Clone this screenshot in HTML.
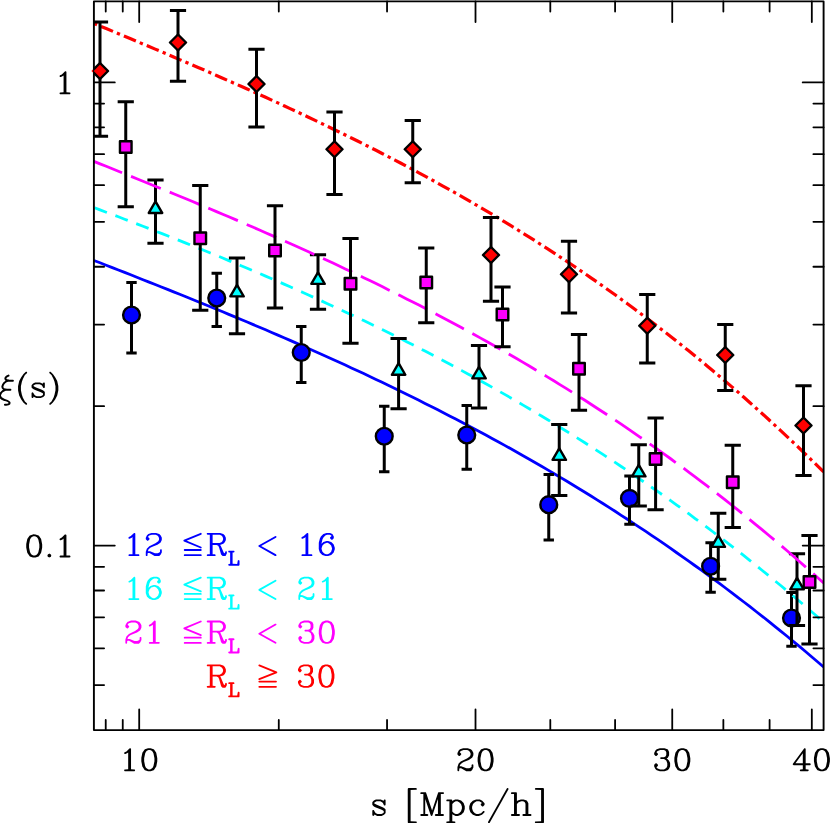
<!DOCTYPE html>
<html><head><meta charset="utf-8"><title>xi(s)</title>
<style>html,body{margin:0;padding:0;background:#fff;}body{width:830px;height:823px;overflow:hidden;font-family:"Liberation Serif",serif;}svg{display:block}</style>
</head><body>
<svg width="830" height="823" viewBox="0 0 830 823">
<rect width="830" height="823" fill="#fff"/>
<clipPath id="c"><rect x="93.9" y="1.4" width="729.7" height="728.7"/></clipPath>
<g clip-path="url(#c)"><path d="M93.9,260.5 L100.0,262.8 L106.2,265.2 L112.3,267.6 L118.4,270.0 L124.6,272.4 L130.7,274.8 L136.8,277.3 L143.0,279.7 L149.1,282.1 L155.2,284.5 L161.4,287.0 L167.5,289.4 L173.6,291.9 L179.7,294.3 L185.9,296.8 L192.0,299.3 L198.1,301.8 L204.3,304.3 L210.4,306.8 L216.5,309.3 L222.7,311.8 L228.8,314.4 L234.9,316.9 L241.1,319.5 L247.2,322.0 L253.3,324.6 L259.5,327.2 L265.6,329.8 L271.7,332.5 L277.9,335.1 L284.0,337.7 L290.1,340.4 L296.3,343.1 L302.4,345.8 L308.5,348.5 L314.6,351.2 L320.8,354.0 L326.9,356.7 L333.0,359.5 L339.2,362.3 L345.3,365.1 L351.4,367.9 L357.6,370.8 L363.7,373.6 L369.8,376.5 L376.0,379.4 L382.1,382.3 L388.2,385.3 L394.4,388.2 L400.5,391.2 L406.6,394.2 L412.8,397.2 L418.9,400.3 L425.0,403.4 L431.2,406.4 L437.3,409.6 L443.4,412.7 L449.6,415.9 L455.7,419.0 L461.8,422.2 L467.9,425.5 L474.1,428.7 L480.2,432.0 L486.3,435.3 L492.5,438.7 L498.6,442.0 L504.7,445.4 L510.9,448.8 L517.0,452.3 L523.1,455.7 L529.3,459.2 L535.4,462.7 L541.5,466.3 L547.7,469.9 L553.8,473.5 L559.9,477.1 L566.1,480.8 L572.2,484.5 L578.3,488.2 L584.5,492.0 L590.6,495.8 L596.7,499.6 L602.9,503.5 L609.0,507.4 L615.1,511.3 L621.2,515.3 L627.4,519.3 L633.5,523.3 L639.6,527.4 L645.8,531.4 L651.9,535.6 L658.0,539.7 L664.2,543.9 L670.3,548.2 L676.4,552.5 L682.6,556.8 L688.7,561.1 L694.8,565.5 L701.0,569.9 L707.1,574.4 L713.2,578.9 L719.4,583.4 L725.5,588.0 L731.6,592.6 L737.8,597.3 L743.9,602.0 L750.0,606.7 L756.1,611.5 L762.3,616.3 L768.4,621.2 L774.5,626.1 L780.7,631.1 L786.8,636.0 L792.9,641.1 L799.1,646.2 L805.2,651.3 L811.3,656.5 L817.5,661.7 L823.6,666.9" fill="none" stroke="#0000ff" stroke-width="2.8"/><path d="M131.50,282.50V353.00M126.30,282.50H136.70M126.30,353.00H136.70M216.75,273.25V326.50M211.55,273.25H221.95M211.55,326.50H221.95M301.25,326.50V382.50M296.05,326.50H306.45M296.05,382.50H306.45M384.25,406.25V471.75M379.05,406.25H389.45M379.05,471.75H389.45M466.75,405.50V469.25M461.55,405.50H471.95M461.55,469.25H471.95M548.75,474.60V540.00M543.55,474.60H553.95M543.55,540.00H553.95M629.50,476.00V524.20M624.30,476.00H634.70M624.30,524.20H634.70M710.60,542.80V592.30M705.40,542.80H715.80M705.40,592.30H715.80M791.50,592.50V646.25M786.30,592.50H796.70M786.30,646.25H796.70" fill="none" stroke="#000" stroke-width="3"/></g>
<circle cx="131.50" cy="315.00" r="8.4" fill="#0000ff" stroke="#000" stroke-width="2.4"/><circle cx="216.75" cy="298.00" r="8.4" fill="#0000ff" stroke="#000" stroke-width="2.4"/><circle cx="301.25" cy="352.50" r="8.4" fill="#0000ff" stroke="#000" stroke-width="2.4"/><circle cx="384.25" cy="436.25" r="8.4" fill="#0000ff" stroke="#000" stroke-width="2.4"/><circle cx="466.75" cy="435.00" r="8.4" fill="#0000ff" stroke="#000" stroke-width="2.4"/><circle cx="548.75" cy="504.70" r="8.4" fill="#0000ff" stroke="#000" stroke-width="2.4"/><circle cx="629.50" cy="498.40" r="8.4" fill="#0000ff" stroke="#000" stroke-width="2.4"/><circle cx="710.60" cy="566.25" r="8.4" fill="#0000ff" stroke="#000" stroke-width="2.4"/><circle cx="791.50" cy="618.00" r="8.4" fill="#0000ff" stroke="#000" stroke-width="2.4"/>
<g clip-path="url(#c)"><path d="M93.9,207.5 L100.0,209.9 L106.2,212.2 L112.3,214.5 L118.4,216.8 L124.6,219.2 L130.7,221.5 L136.8,223.9 L143.0,226.2 L149.1,228.6 L155.2,231.0 L161.4,233.4 L167.5,235.8 L173.6,238.2 L179.7,240.6 L185.9,243.1 L192.0,245.6 L198.1,248.0 L204.3,250.5 L210.4,253.0 L216.5,255.5 L222.7,258.0 L228.8,260.6 L234.9,263.1 L241.1,265.7 L247.2,268.3 L253.3,270.9 L259.5,273.5 L265.6,276.1 L271.7,278.8 L277.9,281.4 L284.0,284.1 L290.1,286.8 L296.3,289.5 L302.4,292.2 L308.5,295.0 L314.6,297.8 L320.8,300.6 L326.9,303.4 L333.0,306.2 L339.2,309.0 L345.3,311.9 L351.4,314.8 L357.6,317.7 L363.7,320.6 L369.8,323.6 L376.0,326.5 L382.1,329.5 L388.2,332.5 L394.4,335.6 L400.5,338.6 L406.6,341.7 L412.8,344.8 L418.9,348.0 L425.0,351.1 L431.2,354.3 L437.3,357.5 L443.4,360.7 L449.6,364.0 L455.7,367.2 L461.8,370.6 L467.9,373.9 L474.1,377.2 L480.2,380.6 L486.3,384.0 L492.5,387.5 L498.6,390.9 L504.7,394.4 L510.9,398.0 L517.0,401.5 L523.1,405.1 L529.3,408.7 L535.4,412.3 L541.5,416.0 L547.7,419.7 L553.8,423.4 L559.9,427.2 L566.1,431.0 L572.2,434.8 L578.3,438.6 L584.5,442.5 L590.6,446.4 L596.7,450.4 L602.9,454.4 L609.0,458.4 L615.1,462.4 L621.2,466.5 L627.4,470.6 L633.5,474.8 L639.6,479.0 L645.8,483.2 L651.9,487.5 L658.0,491.7 L664.2,496.1 L670.3,500.4 L676.4,504.8 L682.6,509.3 L688.7,513.7 L694.8,518.3 L701.0,522.8 L707.1,527.4 L713.2,532.0 L719.4,536.7 L725.5,541.4 L731.6,546.1 L737.8,550.9 L743.9,555.7 L750.0,560.6 L756.1,565.5 L762.3,570.5 L768.4,575.4 L774.5,580.5 L780.7,585.5 L786.8,590.6 L792.9,595.8 L799.1,601.0 L805.2,606.2 L811.3,611.5 L817.5,616.8 L823.6,622.2" fill="none" stroke="#00ffff" stroke-width="2.8" stroke-dasharray="13.2 9.1" stroke-dashoffset="-0.7"/><path d="M155.50,179.90V243.15M147.40,179.90H163.60M147.40,243.15H163.60M237.00,257.90V333.65M228.90,257.90H245.10M228.90,333.65H245.10M318.00,254.65V309.15M309.90,254.65H326.10M309.90,309.15H326.10M398.60,338.40V408.65M390.50,338.40H406.70M390.50,408.65H406.70M479.00,345.40V407.90M470.90,345.40H487.10M470.90,407.90H487.10M559.25,424.40V495.40M551.15,424.40H567.35M551.15,495.40H567.35M638.75,444.65V505.90M630.65,444.65H646.85M630.65,505.90H646.85M718.25,513.15V579.30M710.15,513.15H726.35M710.15,579.30H726.35M797.00,553.65V625.40M788.90,553.65H805.10M788.90,625.40H805.10" fill="none" stroke="#000" stroke-width="3"/></g>
<path d="M155.50,201.40L162.20,212.95H148.80ZM237.00,284.80L243.70,296.35H230.30ZM318.00,272.30L324.70,283.85H311.30ZM398.60,363.20L405.30,374.75H391.90ZM479.00,366.80L485.70,378.35H472.30ZM559.25,448.30L565.95,459.85H552.55ZM638.75,464.80L645.45,476.35H632.05ZM718.25,535.30L724.95,546.85H711.55ZM797.00,577.80L803.70,589.35H790.30Z" fill="#00ffff" stroke="#000" stroke-width="2.4" stroke-linejoin="round"/>
<g clip-path="url(#c)"><path d="M93.9,161.4 L100.0,163.9 L106.2,166.3 L112.3,168.8 L118.4,171.3 L124.6,173.7 L130.7,176.2 L136.8,178.7 L143.0,181.2 L149.1,183.7 L155.2,186.2 L161.4,188.7 L167.5,191.2 L173.6,193.7 L179.7,196.2 L185.9,198.8 L192.0,201.3 L198.1,203.9 L204.3,206.4 L210.4,209.0 L216.5,211.6 L222.7,214.2 L228.8,216.8 L234.9,219.4 L241.1,222.0 L247.2,224.7 L253.3,227.3 L259.5,230.0 L265.6,232.7 L271.7,235.4 L277.9,238.1 L284.0,240.8 L290.1,243.5 L296.3,246.3 L302.4,249.1 L308.5,251.8 L314.6,254.6 L320.8,257.5 L326.9,260.3 L333.0,263.1 L339.2,266.0 L345.3,268.9 L351.4,271.8 L357.6,274.7 L363.7,277.7 L369.8,280.6 L376.0,283.6 L382.1,286.6 L388.2,289.7 L394.4,292.7 L400.5,295.8 L406.6,298.9 L412.8,302.0 L418.9,305.1 L425.0,308.3 L431.2,311.5 L437.3,314.7 L443.4,317.9 L449.6,321.2 L455.7,324.5 L461.8,327.8 L467.9,331.1 L474.1,334.5 L480.2,337.9 L486.3,341.3 L492.5,344.7 L498.6,348.2 L504.7,351.7 L510.9,355.3 L517.0,358.8 L523.1,362.4 L529.3,366.0 L535.4,369.7 L541.5,373.4 L547.7,377.1 L553.8,380.8 L559.9,384.6 L566.1,388.4 L572.2,392.3 L578.3,396.1 L584.5,400.0 L590.6,404.0 L596.7,408.0 L602.9,412.0 L609.0,416.0 L615.1,420.1 L621.2,424.2 L627.4,428.4 L633.5,432.6 L639.6,436.8 L645.8,441.1 L651.9,445.4 L658.0,449.7 L664.2,454.1 L670.3,458.5 L676.4,463.0 L682.6,467.5 L688.7,472.1 L694.8,476.6 L701.0,481.3 L707.1,485.9 L713.2,490.6 L719.4,495.4 L725.5,500.2 L731.6,505.0 L737.8,509.9 L743.9,514.8 L750.0,519.8 L756.1,524.8 L762.3,529.9 L768.4,535.0 L774.5,540.1 L780.7,545.3 L786.8,550.5 L792.9,555.8 L799.1,561.2 L805.2,566.6 L811.3,572.0 L817.5,577.5 L823.6,583.0" fill="none" stroke="#ff00ff" stroke-width="2.8" stroke-dasharray="32.1 9.68" stroke-dashoffset="1.75"/><path d="M125.75,101.75V206.75M117.65,101.75H133.85M117.65,206.75H133.85M200.25,185.50V310.25M192.15,185.50H208.35M192.15,310.25H208.35M275.00,205.75V308.00M266.90,205.75H283.10M266.90,308.00H283.10M350.50,238.50V343.25M342.40,238.50H358.60M342.40,343.25H358.60M426.25,248.00V322.75M418.15,248.00H434.35M418.15,322.75H434.35M502.50,287.00V346.75M494.40,287.00H510.60M494.40,346.75H510.60M579.00,334.50V410.25M570.90,334.50H587.10M570.90,410.25H587.10M655.60,418.00V509.75M647.50,418.00H663.70M647.50,509.75H663.70M732.75,445.25V527.40M724.65,445.25H740.85M724.65,527.40H740.85M809.50,535.50V644.00M801.40,535.50H817.60M801.40,644.00H817.60" fill="none" stroke="#000" stroke-width="3"/></g>
<path d="M119.95,141.20h11.6v11.6h-11.6ZM194.45,232.45h11.6v11.6h-11.6ZM269.20,244.70h11.6v11.6h-11.6ZM344.70,277.95h11.6v11.6h-11.6ZM420.45,276.70h11.6v11.6h-11.6ZM496.70,308.70h11.6v11.6h-11.6ZM573.20,362.95h11.6v11.6h-11.6ZM649.80,453.20h11.6v11.6h-11.6ZM726.95,476.45h11.6v11.6h-11.6ZM803.70,576.20h11.6v11.6h-11.6Z" fill="#ff00ff" stroke="#000" stroke-width="2.4" stroke-linejoin="round"/>
<g clip-path="url(#c)"><path d="M93.9,23.4 L100.0,26.0 L106.2,28.5 L112.3,31.1 L118.4,33.7 L124.6,36.2 L130.7,38.8 L136.8,41.4 L143.0,44.0 L149.1,46.5 L155.2,49.1 L161.4,51.7 L167.5,54.3 L173.6,57.0 L179.7,59.6 L185.9,62.2 L192.0,64.8 L198.1,67.5 L204.3,70.1 L210.4,72.8 L216.5,75.5 L222.7,78.2 L228.8,80.9 L234.9,83.6 L241.1,86.3 L247.2,89.0 L253.3,91.8 L259.5,94.6 L265.6,97.3 L271.7,100.1 L277.9,102.9 L284.0,105.8 L290.1,108.6 L296.3,111.5 L302.4,114.3 L308.5,117.2 L314.6,120.1 L320.8,123.1 L326.9,126.0 L333.0,129.0 L339.2,132.0 L345.3,135.0 L351.4,138.0 L357.6,141.0 L363.7,144.1 L369.8,147.2 L376.0,150.3 L382.1,153.5 L388.2,156.6 L394.4,159.8 L400.5,163.0 L406.6,166.3 L412.8,169.5 L418.9,172.8 L425.0,176.1 L431.2,179.5 L437.3,182.9 L443.4,186.3 L449.6,189.7 L455.7,193.2 L461.8,196.6 L467.9,200.2 L474.1,203.7 L480.2,207.3 L486.3,210.9 L492.5,214.5 L498.6,218.2 L504.7,221.9 L510.9,225.7 L517.0,229.4 L523.1,233.3 L529.3,237.1 L535.4,241.0 L541.5,244.9 L547.7,248.8 L553.8,252.8 L559.9,256.9 L566.1,260.9 L572.2,265.0 L578.3,269.2 L584.5,273.3 L590.6,277.6 L596.7,281.8 L602.9,286.1 L609.0,290.5 L615.1,294.8 L621.2,299.3 L627.4,303.7 L633.5,308.2 L639.6,312.8 L645.8,317.4 L651.9,322.0 L658.0,326.7 L664.2,331.5 L670.3,336.2 L676.4,341.1 L682.6,345.9 L688.7,350.8 L694.8,355.8 L701.0,360.8 L707.1,365.9 L713.2,371.0 L719.4,376.2 L725.5,381.4 L731.6,386.6 L737.8,391.9 L743.9,397.3 L750.0,402.7 L756.1,408.2 L762.3,413.7 L768.4,419.3 L774.5,424.9 L780.7,430.6 L786.8,436.3 L792.9,442.1 L799.1,448.0 L805.2,453.9 L811.3,459.8 L817.5,465.9 L823.6,471.9" fill="none" stroke="#ff0000" stroke-width="3.2" stroke-dasharray="13.0 4.25 3.3 4.25" stroke-dashoffset="-7.7"/><path d="M100.00,22.00V136.25M91.90,22.00H108.10M91.90,136.25H108.10M178.00,10.50V81.25M169.90,10.50H186.10M169.90,81.25H186.10M256.50,49.25V127.00M248.40,49.25H264.60M248.40,127.00H264.60M334.50,112.00V194.50M326.40,112.00H342.60M326.40,194.50H342.60M412.75,120.50V182.75M404.65,120.50H420.85M404.65,182.75H420.85M491.00,217.50V301.25M482.90,217.50H499.10M482.90,301.25H499.10M569.00,241.25V313.00M560.90,241.25H577.10M560.90,313.00H577.10M647.25,294.50V363.00M639.15,294.50H655.35M639.15,363.00H655.35M725.25,324.50V390.50M717.15,324.50H733.35M717.15,390.50H733.35M803.50,385.75V475.50M795.40,385.75H811.60M795.40,475.50H811.60" fill="none" stroke="#000" stroke-width="3"/></g>
<path d="M178.00,34.50l8.0,8.0l-8.0,8.0l-8.0,-8.0ZM256.50,76.00l8.0,8.0l-8.0,8.0l-8.0,-8.0ZM334.50,141.25l8.0,8.0l-8.0,8.0l-8.0,-8.0ZM412.75,141.25l8.0,8.0l-8.0,8.0l-8.0,-8.0ZM491.00,247.00l8.0,8.0l-8.0,8.0l-8.0,-8.0ZM569.00,266.25l8.0,8.0l-8.0,8.0l-8.0,-8.0ZM647.25,317.75l8.0,8.0l-8.0,8.0l-8.0,-8.0ZM725.25,347.00l8.0,8.0l-8.0,8.0l-8.0,-8.0ZM803.50,417.50l8.0,8.0l-8.0,8.0l-8.0,-8.0Z" fill="#ff0000" stroke="#000" stroke-width="2.4" stroke-linejoin="round"/>
<path d="M100,62.4l8.6,8.6l-8.6,8.6l-8.6,-8.6Z" fill="#ff0000"/>
<path d="M93.9,1.4H823.6V730.1H93.9Z" fill="none" stroke="#000" stroke-width="1.9" stroke-linejoin="round"/>
<path d="M139.20,730.1v-20.7M139.20,1.4v20.7M475.51,730.1v-20.7M475.51,1.4v20.7M672.24,730.1v-20.7M672.24,1.4v20.7M811.82,730.1v-20.7M811.82,1.4v20.7M105.73,730.1v-10.2M105.73,1.4v10.2M122.75,730.1v-10.2M122.75,1.4v10.2M278.78,730.1v-10.2M278.78,1.4v10.2M387.05,730.1v-10.2M387.05,1.4v10.2M550.30,730.1v-10.2M550.30,1.4v10.2M615.09,730.1v-10.2M615.09,1.4v10.2M723.36,730.1v-10.2M723.36,1.4v10.2M769.60,730.1v-10.2M769.60,1.4v10.2M93.9,82.40h20.9M823.6,82.40h-20.9M93.9,545.60h20.9M823.6,545.60h-20.9M93.9,103.59h10.2M823.6,103.59h-10.2M93.9,127.29h10.2M823.6,127.29h-10.2M93.9,154.15h10.2M823.6,154.15h-10.2M93.9,185.16h10.2M823.6,185.16h-10.2M93.9,221.84h10.2M823.6,221.84h-10.2M93.9,266.73h10.2M823.6,266.73h-10.2M93.9,324.60h10.2M823.6,324.60h-10.2M93.9,406.16h10.2M823.6,406.16h-10.2M93.9,566.79h10.2M823.6,566.79h-10.2M93.9,590.49h10.2M823.6,590.49h-10.2M93.9,617.35h10.2M823.6,617.35h-10.2M93.9,648.36h10.2M823.6,648.36h-10.2M93.9,685.04h10.2M823.6,685.04h-10.2" fill="none" stroke="#000" stroke-width="1.8" stroke-linecap="round"/>
<g clip-path="url(#c)"><path d="M100,63.0l8.0,8.0l-8.0,8.0l-8.0,-8.0Z" fill="#ff0000" stroke="#000" stroke-width="2.4" stroke-linejoin="round"/></g>
<g fill="#000" fill-rule="evenodd"><path transform="translate(119.00 770.30) scale(1.0100 1.0100)" d="M11.22 -21.88 10.78 -21.88 10.34 -21.66 7.38 -18.69 5.59 -17.81 5.34 -17.62 5.12 -17.22 5.12 -16.78 5.34 -16.38 5.69 -16.16 6.00 -16.09 6.41 -16.19 8.41 -17.19 9.09 -17.72 9.09 -0.94 6.00 -0.91 5.50 -0.75 5.16 -0.31 5.12 0.22 5.34 0.62 5.78 0.88 15.00 0.91 15.31 0.84 15.62 0.66 15.88 0.22 15.88 -0.22 15.75 -0.50 15.50 -0.75 15.22 -0.88 11.91 -0.94 11.91 -21.00 11.84 -21.31 11.66 -21.62Z"/><path transform="translate(139.20 770.30) scale(1.0100 1.0100)" d="M9.00 -21.91 8.72 -21.88 5.72 -20.88 5.38 -20.66 3.28 -17.56 3.09 -17.16 2.12 -12.31 2.09 -9.00 3.09 -3.84 3.28 -3.44 5.34 -0.38 5.72 -0.12 8.72 0.88 11.00 0.91 11.28 0.88 14.28 -0.12 14.62 -0.34 16.72 -3.44 16.91 -3.84 17.88 -8.69 17.91 -12.00 16.91 -17.16 16.72 -17.56 14.66 -20.62 14.28 -20.88 11.28 -21.88ZM9.19 -20.09 10.81 -20.09 12.38 -19.31 13.31 -18.38 14.16 -16.66 15.09 -11.97 15.09 -9.03 14.12 -4.25 13.31 -2.62 12.38 -1.69 10.81 -0.91 9.19 -0.91 7.62 -1.69 6.69 -2.62 5.84 -4.34 4.91 -9.03 4.91 -11.97 5.88 -16.75 6.69 -18.38 7.62 -19.31Z"/></g>
<g fill="#000" fill-rule="evenodd"><path transform="translate(455.31 770.30) scale(1.0100 1.0100)" d="M4.72 -20.88 4.34 -20.66 3.34 -19.66 2.12 -17.22 2.09 -16.00 2.16 -15.69 2.34 -15.34 3.50 -14.25 4.00 -14.09 4.31 -14.16 4.66 -14.34 5.66 -15.34 5.88 -15.78 5.88 -16.22 5.66 -16.66 4.66 -17.66 4.41 -17.81 4.69 -18.38 5.53 -19.22 8.12 -20.09 11.81 -20.09 13.38 -19.31 14.31 -18.38 15.09 -16.81 15.09 -15.19 14.28 -13.59 11.56 -11.78 5.34 -8.66 3.34 -6.66 3.12 -6.28 2.12 -3.28 2.09 0.00 2.16 0.31 2.38 0.66 2.78 0.88 3.22 0.88 3.50 0.75 3.75 0.50 3.88 0.22 3.91 -1.59 4.41 -2.09 5.75 -2.09 10.47 0.75 10.78 0.88 15.00 0.91 15.31 0.84 15.66 0.66 16.66 -0.34 17.88 -2.78 17.88 -5.22 17.66 -5.62 17.31 -5.84 16.78 -5.88 16.50 -5.75 16.25 -5.50 16.09 -5.00 16.09 -3.41 15.38 -2.69 13.81 -1.91 11.16 -1.91 6.38 -3.84 6.00 -3.91 4.31 -3.91 4.28 -4.00 4.78 -5.47 6.62 -7.31 8.31 -8.16 13.34 -10.16 16.62 -12.34 16.81 -12.59 17.88 -14.78 17.91 -17.00 17.81 -17.41 16.66 -19.66 15.66 -20.66 15.28 -20.88 12.28 -21.88 7.72 -21.88Z"/><path transform="translate(475.51 770.30) scale(1.0100 1.0100)" d="M9.00 -21.91 8.72 -21.88 5.72 -20.88 5.38 -20.66 3.28 -17.56 3.09 -17.16 2.12 -12.31 2.09 -9.00 3.09 -3.84 3.28 -3.44 5.34 -0.38 5.72 -0.12 8.72 0.88 11.00 0.91 11.28 0.88 14.28 -0.12 14.62 -0.34 16.72 -3.44 16.91 -3.84 17.88 -8.69 17.91 -12.00 16.91 -17.16 16.72 -17.56 14.66 -20.62 14.28 -20.88 11.28 -21.88ZM9.19 -20.09 10.81 -20.09 12.38 -19.31 13.31 -18.38 14.16 -16.66 15.09 -11.97 15.09 -9.03 14.12 -4.25 13.31 -2.62 12.38 -1.69 10.81 -0.91 9.19 -0.91 7.62 -1.69 6.69 -2.62 5.84 -4.34 4.91 -9.03 4.91 -11.97 5.88 -16.75 6.69 -18.38 7.62 -19.31Z"/></g>
<g fill="#000" fill-rule="evenodd"><path transform="translate(652.04 770.30) scale(1.0100 1.0100)" d="M7.72 -21.88 4.72 -20.88 4.34 -20.66 3.34 -19.66 2.12 -17.22 2.09 -16.00 2.16 -15.69 2.34 -15.34 3.50 -14.25 4.00 -14.09 4.31 -14.16 4.66 -14.34 5.66 -15.34 5.84 -15.69 5.91 -16.00 5.84 -16.31 5.66 -16.66 4.66 -17.66 4.41 -17.81 4.69 -18.38 5.53 -19.22 8.12 -20.09 11.81 -20.09 13.31 -19.34 14.09 -17.81 14.09 -15.19 13.34 -13.69 11.81 -12.91 8.78 -12.88 8.34 -12.62 8.16 -12.31 8.09 -12.00 8.16 -11.69 8.34 -11.38 8.78 -11.12 11.81 -11.09 13.38 -10.31 14.22 -9.47 15.09 -6.88 15.09 -4.19 14.31 -2.62 13.38 -1.69 11.81 -0.91 8.12 -0.91 5.53 -1.78 4.69 -2.62 4.41 -3.19 4.66 -3.34 5.66 -4.34 5.88 -4.78 5.88 -5.22 5.66 -5.66 4.66 -6.66 4.22 -6.88 3.78 -6.88 3.34 -6.66 2.34 -5.66 2.16 -5.31 2.09 -5.00 2.12 -3.78 3.34 -1.34 4.34 -0.34 4.72 -0.12 7.72 0.88 12.28 0.88 15.28 -0.12 15.66 -0.34 16.66 -1.34 17.88 -3.78 17.91 -7.00 17.81 -7.41 16.66 -9.66 14.66 -11.66 14.41 -11.81 15.28 -12.12 15.66 -12.38 16.81 -14.59 16.91 -15.00 16.88 -18.22 15.81 -20.41 15.62 -20.66 15.28 -20.88 12.28 -21.88Z"/><path transform="translate(672.24 770.30) scale(1.0100 1.0100)" d="M9.00 -21.91 8.72 -21.88 5.72 -20.88 5.38 -20.66 3.28 -17.56 3.09 -17.16 2.12 -12.31 2.09 -9.00 3.09 -3.84 3.28 -3.44 5.34 -0.38 5.72 -0.12 8.72 0.88 11.00 0.91 11.28 0.88 14.28 -0.12 14.62 -0.34 16.72 -3.44 16.91 -3.84 17.88 -8.69 17.91 -12.00 16.91 -17.16 16.72 -17.56 14.66 -20.62 14.28 -20.88 11.28 -21.88ZM9.19 -20.09 10.81 -20.09 12.38 -19.31 13.31 -18.38 14.16 -16.66 15.09 -11.97 15.09 -9.03 14.12 -4.25 13.31 -2.62 12.38 -1.69 10.81 -0.91 9.19 -0.91 7.62 -1.69 6.69 -2.62 5.84 -4.34 4.91 -9.03 4.91 -11.97 5.88 -16.75 6.69 -18.38 7.62 -19.31Z"/></g>
<g fill="#000" fill-rule="evenodd"><path transform="translate(791.62 770.30) scale(1.0100 1.0100)" d="M13.22 -21.88 12.69 -21.84 12.38 -21.66 1.44 -6.78 1.12 -6.22 1.12 -5.78 1.34 -5.38 1.69 -5.16 2.00 -5.09 11.06 -5.09 11.09 -0.94 9.00 -0.91 8.69 -0.84 8.38 -0.66 8.12 -0.22 8.12 0.22 8.34 0.62 8.78 0.88 16.00 0.91 16.50 0.75 16.75 0.50 16.91 0.00 16.75 -0.50 16.50 -0.75 16.00 -0.91 13.91 -0.94 13.91 -5.06 18.22 -5.12 18.62 -5.34 18.88 -5.78 18.88 -6.22 18.75 -6.50 18.50 -6.75 18.22 -6.88 13.91 -6.94 13.91 -21.00 13.84 -21.31 13.66 -21.62ZM11.06 -16.81 11.09 -6.94 3.84 -6.91 4.00 -7.22Z"/><path transform="translate(811.82 770.30) scale(1.0100 1.0100)" d="M9.00 -21.91 8.72 -21.88 5.72 -20.88 5.38 -20.66 3.28 -17.56 3.09 -17.16 2.12 -12.31 2.09 -9.00 3.09 -3.84 3.28 -3.44 5.34 -0.38 5.72 -0.12 8.72 0.88 11.00 0.91 11.28 0.88 14.28 -0.12 14.62 -0.34 16.72 -3.44 16.91 -3.84 17.88 -8.69 17.91 -12.00 16.91 -17.16 16.72 -17.56 14.66 -20.62 14.28 -20.88 11.28 -21.88ZM9.19 -20.09 10.81 -20.09 12.38 -19.31 13.31 -18.38 14.16 -16.66 15.09 -11.97 15.09 -9.03 14.12 -4.25 13.31 -2.62 12.38 -1.69 10.81 -0.91 9.19 -0.91 7.62 -1.69 6.69 -2.62 5.84 -4.34 4.91 -9.03 4.91 -11.97 5.88 -16.75 6.69 -18.38 7.62 -19.31Z"/></g>
<g fill="#000" fill-rule="evenodd"><path transform="translate(54.40 93.30) scale(1.0100 1.0100)" d="M11.22 -21.88 10.78 -21.88 10.34 -21.66 7.38 -18.69 5.59 -17.81 5.34 -17.62 5.12 -17.22 5.12 -16.78 5.34 -16.38 5.69 -16.16 6.00 -16.09 6.41 -16.19 8.41 -17.19 9.09 -17.72 9.09 -0.94 6.00 -0.91 5.50 -0.75 5.16 -0.31 5.12 0.22 5.34 0.62 5.78 0.88 15.00 0.91 15.31 0.84 15.62 0.66 15.88 0.22 15.88 -0.22 15.75 -0.50 15.50 -0.75 15.22 -0.88 11.91 -0.94 11.91 -21.00 11.84 -21.31 11.66 -21.62Z"/></g>
<g fill="#000" fill-rule="evenodd"><path transform="translate(24.10 556.50) scale(1.0100 1.0100)" d="M9.00 -21.91 8.72 -21.88 5.72 -20.88 5.38 -20.66 3.28 -17.56 3.09 -17.16 2.12 -12.31 2.09 -9.00 3.09 -3.84 3.28 -3.44 5.34 -0.38 5.72 -0.12 8.72 0.88 11.00 0.91 11.28 0.88 14.28 -0.12 14.62 -0.34 16.72 -3.44 16.91 -3.84 17.88 -8.69 17.91 -12.00 16.91 -17.16 16.72 -17.56 14.66 -20.62 14.28 -20.88 11.28 -21.88ZM9.19 -20.09 10.81 -20.09 12.38 -19.31 13.31 -18.38 14.16 -16.66 15.09 -11.97 15.09 -9.03 14.12 -4.25 13.31 -2.62 12.38 -1.69 10.81 -0.91 9.19 -0.91 7.62 -1.69 6.69 -2.62 5.84 -4.34 4.91 -9.03 4.91 -11.97 5.88 -16.75 6.69 -18.38 7.62 -19.31Z"/><path transform="translate(44.30 556.50) scale(1.0100 1.0100)" d="M5.00 -2.91 4.69 -2.84 4.34 -2.66 3.34 -1.66 3.16 -1.31 3.09 -1.00 3.16 -0.69 3.34 -0.34 4.34 0.66 4.69 0.84 5.00 0.91 5.31 0.84 5.66 0.66 6.66 -0.34 6.84 -0.69 6.91 -1.00 6.84 -1.31 6.66 -1.66 5.66 -2.66 5.31 -2.84Z"/><path transform="translate(54.40 556.50) scale(1.0100 1.0100)" d="M11.22 -21.88 10.78 -21.88 10.34 -21.66 7.38 -18.69 5.59 -17.81 5.34 -17.62 5.12 -17.22 5.12 -16.78 5.34 -16.38 5.69 -16.16 6.00 -16.09 6.41 -16.19 8.41 -17.19 9.09 -17.72 9.09 -0.94 6.00 -0.91 5.50 -0.75 5.16 -0.31 5.12 0.22 5.34 0.62 5.78 0.88 15.00 0.91 15.31 0.84 15.62 0.66 15.88 0.22 15.88 -0.22 15.75 -0.50 15.50 -0.75 15.22 -0.88 11.91 -0.94 11.91 -21.00 11.84 -21.31 11.66 -21.62Z"/></g>
<g fill="#000" fill-rule="evenodd"><path transform="translate(370.10 815.00) scale(1.0420 1.0420)" d="M5.56 -14.78 3.62 -13.81 2.25 -12.44 2.12 -12.00 2.12 -10.00 2.25 -9.56 3.62 -8.19 5.56 -7.22 10.56 -5.25 12.47 -4.28 13.12 -3.62 13.12 -2.38 12.47 -1.72 10.78 -0.88 7.22 -0.88 5.53 -1.72 4.72 -2.53 3.69 -4.53 3.31 -4.81 2.78 -4.84 2.31 -4.53 2.12 -4.00 2.12 0.00 2.19 0.31 2.31 0.53 2.69 0.81 3.00 0.88 3.31 0.81 3.81 0.38 4.25 -0.50 4.62 -0.19 6.78 0.84 11.00 0.88 11.44 0.78 13.38 -0.19 14.75 -1.56 14.88 -2.00 14.88 -5.00 14.75 -5.44 13.38 -6.81 11.44 -7.78 6.44 -9.75 4.53 -10.72 3.88 -11.38 3.88 -11.62 4.53 -12.28 6.22 -13.12 9.78 -13.12 11.47 -12.28 12.28 -11.47 13.31 -9.47 13.69 -9.19 14.22 -9.16 14.69 -9.47 14.88 -10.00 14.88 -14.00 14.81 -14.31 14.69 -14.53 14.31 -14.81 14.00 -14.88 13.69 -14.81 13.19 -14.38 12.75 -13.50 12.38 -13.81 10.22 -14.84 6.00 -14.88Z"/><path transform="translate(404.49 815.00) scale(1.0420 1.0420)" d="M3.78 -25.84 3.31 -25.53 3.12 -25.00 3.16 7.22 3.47 7.69 4.00 7.88 11.22 7.84 11.69 7.53 11.88 7.00 11.69 6.47 11.22 6.16 5.88 6.09 5.88 -24.09 11.22 -24.16 11.53 -24.31 11.75 -24.56 11.84 -24.78 11.84 -25.22 11.53 -25.69 11.00 -25.88Z"/><path transform="translate(419.07 815.00) scale(1.0420 1.0420)" d="M1.47 -21.69 1.25 -21.44 1.12 -21.00 1.25 -20.56 1.56 -20.25 2.00 -20.12 4.12 -20.09 4.12 -0.91 2.00 -0.88 1.56 -0.75 1.31 -0.53 1.16 -0.22 1.16 0.22 1.31 0.53 1.56 0.75 2.00 0.88 8.00 0.88 8.53 0.69 8.84 0.22 8.88 0.00 8.75 -0.44 8.31 -0.81 8.00 -0.88 5.88 -0.91 5.91 -15.47 11.16 0.28 11.47 0.69 12.00 0.88 12.53 0.69 12.84 0.28 18.09 -15.47 18.12 -0.91 16.00 -0.88 15.69 -0.81 15.47 -0.69 15.19 -0.31 15.12 0.00 15.19 0.31 15.47 0.69 16.00 0.88 23.00 0.88 23.53 0.69 23.75 0.44 23.88 0.00 23.75 -0.44 23.44 -0.75 23.00 -0.88 20.88 -0.91 20.88 -20.09 23.00 -20.12 23.44 -20.25 23.69 -20.47 23.84 -20.78 23.84 -21.22 23.69 -21.53 23.44 -21.75 23.00 -21.88 19.00 -21.88 18.56 -21.75 18.25 -21.44 12.50 -4.31 6.75 -21.44 6.44 -21.75 6.00 -21.88 2.00 -21.88Z"/><path transform="translate(445.12 815.00) scale(1.0420 1.0420)" d="M1.78 -14.84 1.47 -14.69 1.16 -14.22 1.19 -13.69 1.47 -13.31 2.00 -13.12 4.12 -13.09 4.12 6.09 2.00 6.12 1.69 6.19 1.25 6.56 1.16 6.78 1.16 7.22 1.47 7.69 2.00 7.88 9.22 7.84 9.53 7.69 9.84 7.22 9.81 6.69 9.53 6.31 9.00 6.12 6.88 6.09 6.88 -0.81 7.62 -0.19 9.56 0.78 10.00 0.88 12.28 0.84 15.44 -0.25 17.62 -2.38 17.84 -2.72 18.84 -5.72 18.84 -8.28 17.75 -11.44 15.62 -13.62 15.28 -13.84 12.28 -14.84 10.00 -14.88 9.56 -14.78 7.62 -13.81 6.91 -13.16 6.81 -14.31 6.53 -14.69 6.22 -14.84ZM10.22 -13.12 11.78 -13.12 13.47 -12.28 15.25 -10.50 16.12 -7.88 16.12 -6.12 15.25 -3.50 13.47 -1.72 11.78 -0.88 10.22 -0.88 8.53 -1.72 6.88 -3.38 6.88 -10.62 8.53 -12.28Z"/><path transform="translate(467.01 815.00) scale(1.0420 1.0420)" d="M8.72 -14.84 5.56 -13.75 3.38 -11.62 3.16 -11.28 2.16 -8.28 2.16 -5.72 3.25 -2.56 5.38 -0.38 5.72 -0.16 8.72 0.84 11.28 0.84 14.28 -0.16 14.62 -0.38 16.62 -2.38 16.84 -2.78 16.81 -3.31 16.69 -3.53 16.31 -3.81 16.00 -3.88 15.69 -3.81 15.38 -3.62 13.50 -1.75 10.88 -0.88 9.22 -0.88 7.53 -1.72 5.75 -3.50 4.88 -6.12 4.88 -7.88 5.75 -10.50 7.53 -12.28 9.22 -13.12 11.78 -13.12 13.47 -12.28 14.25 -11.50 13.25 -10.44 13.16 -10.22 13.16 -9.78 13.38 -9.38 14.38 -8.38 14.69 -8.19 15.00 -8.12 15.31 -8.19 15.62 -8.38 16.75 -9.56 16.88 -10.00 16.84 -11.22 16.62 -11.62 14.62 -13.62 12.44 -14.78 12.00 -14.88Z"/><path transform="translate(486.80 815.00) scale(1.0420 1.0420)" d="M20.44 -25.75 20.22 -25.84 19.78 -25.84 19.47 -25.69 19.19 -25.38 1.31 6.41 1.16 6.78 1.16 7.22 1.31 7.53 1.56 7.75 1.78 7.84 2.22 7.84 2.53 7.69 2.81 7.38 20.69 -24.41 20.84 -24.78 20.84 -25.22 20.69 -25.53Z"/><path transform="translate(509.73 815.00) scale(1.0420 1.0420)" d="M1.47 -21.69 1.25 -21.44 1.12 -21.00 1.25 -20.56 1.56 -20.25 2.00 -20.12 4.12 -20.09 4.12 -0.91 2.00 -0.88 1.56 -0.75 1.31 -0.53 1.16 -0.22 1.16 0.22 1.31 0.53 1.56 0.75 2.00 0.88 9.00 0.88 9.31 0.81 9.69 0.53 9.84 0.22 9.84 -0.22 9.69 -0.53 9.44 -0.75 9.00 -0.88 6.88 -0.91 6.88 -10.62 8.50 -12.25 11.12 -13.12 12.78 -13.12 14.28 -12.38 15.12 -10.78 15.12 -0.91 13.00 -0.88 12.69 -0.81 12.47 -0.69 12.19 -0.31 12.12 0.00 12.25 0.44 12.56 0.75 13.00 0.88 20.00 0.88 20.53 0.69 20.75 0.44 20.88 0.00 20.75 -0.44 20.44 -0.75 20.00 -0.88 17.88 -0.91 17.88 -11.00 17.78 -11.44 16.69 -13.53 16.28 -13.84 13.28 -14.84 11.00 -14.88 10.72 -14.84 7.72 -13.84 7.38 -13.62 6.91 -13.16 6.88 -21.00 6.75 -21.44 6.44 -21.75 6.00 -21.88 2.00 -21.88Z"/><path transform="translate(532.65 815.00) scale(1.0420 1.0420)" d="M2.78 -25.84 2.31 -25.53 2.12 -25.00 2.31 -24.47 2.78 -24.16 8.12 -24.09 8.12 6.09 2.78 6.16 2.47 6.31 2.25 6.56 2.16 6.78 2.16 7.22 2.47 7.69 3.00 7.88 10.22 7.84 10.69 7.53 10.88 7.00 10.84 -25.22 10.53 -25.69 10.00 -25.88Z"/></g>
<g fill="#000" fill-rule="evenodd"><path transform="translate(14.80 397.10) scale(1.0400 0.9800)" d="M11.00 -25.88 10.69 -25.81 10.38 -25.62 8.38 -23.62 6.19 -20.38 4.22 -16.44 3.12 -11.00 3.16 -6.72 4.22 -1.56 6.19 2.38 8.22 5.44 10.38 7.62 10.69 7.81 11.00 7.88 11.31 7.81 11.69 7.53 11.84 7.22 11.81 6.69 11.62 6.38 9.72 4.47 7.78 0.59 6.81 -2.31 5.88 -7.00 5.88 -11.00 6.81 -15.69 7.78 -18.59 9.72 -22.47 11.62 -24.38 11.81 -24.69 11.84 -25.22 11.69 -25.53 11.44 -25.75Z"/><path transform="translate(29.36 397.10) scale(1.0400 0.9800)" d="M5.56 -14.78 3.62 -13.81 2.25 -12.44 2.12 -12.00 2.12 -10.00 2.25 -9.56 3.62 -8.19 5.56 -7.22 10.56 -5.25 12.47 -4.28 13.12 -3.62 13.12 -2.38 12.47 -1.72 10.78 -0.88 7.22 -0.88 5.53 -1.72 4.72 -2.53 3.69 -4.53 3.31 -4.81 2.78 -4.84 2.31 -4.53 2.12 -4.00 2.12 0.00 2.19 0.31 2.31 0.53 2.69 0.81 3.00 0.88 3.31 0.81 3.81 0.38 4.25 -0.50 4.62 -0.19 6.78 0.84 11.00 0.88 11.44 0.78 13.38 -0.19 14.75 -1.56 14.88 -2.00 14.88 -5.00 14.75 -5.44 13.38 -6.81 11.44 -7.78 6.44 -9.75 4.53 -10.72 3.88 -11.38 3.88 -11.62 4.53 -12.28 6.22 -13.12 9.78 -13.12 11.47 -12.28 12.28 -11.47 13.31 -9.47 13.69 -9.19 14.22 -9.16 14.69 -9.47 14.88 -10.00 14.88 -14.00 14.81 -14.31 14.69 -14.53 14.31 -14.81 14.00 -14.88 13.69 -14.81 13.19 -14.38 12.75 -13.50 12.38 -13.81 10.22 -14.84 6.00 -14.88Z"/><path transform="translate(47.04 397.10) scale(1.0400 0.9800)" d="M3.00 -25.88 2.69 -25.81 2.31 -25.53 2.16 -25.22 2.19 -24.69 2.38 -24.38 4.28 -22.47 6.22 -18.59 7.19 -15.69 8.12 -11.00 8.12 -7.00 7.19 -2.31 6.22 0.59 4.28 4.47 2.38 6.38 2.19 6.69 2.16 7.22 2.31 7.53 2.56 7.75 3.00 7.88 3.31 7.81 3.62 7.62 5.62 5.62 7.81 2.38 9.78 -1.56 10.88 -7.00 10.84 -11.28 9.78 -16.44 7.81 -20.38 5.78 -23.44 3.62 -25.62 3.31 -25.81Z"/></g>
<path d="M8.5,375.6C6.5,376.5 5.2,377.6 5.4,378.6C5.6,379.8 7,380.5 8.5,380.6L12.9,380.7M8.5,380.6C5.5,381.5 2.8,384 2.4,386.5C2.2,388.5 4,389.4 6,389.5L10.4,389.7M6,389.5C3,390.5 .3,393 0,395.5C-.2,397.5 1.5,398.8 4,399.7C6.5,400.6 9.4,401.3 9.6,402.8C9.7,404.2 7.5,405 5,404.7" fill="none" stroke="#000" stroke-width="2" stroke-linecap="round" stroke-linejoin="round"/>
<g fill="#0000ff" fill-rule="evenodd"><path transform="translate(123.20 555.20) scale(1.0200 1.0200)" d="M11.22 -21.84 10.78 -21.84 10.38 -21.62 7.47 -18.72 5.62 -17.81 5.31 -17.53 5.16 -17.22 5.16 -16.78 5.31 -16.47 5.69 -16.19 6.22 -16.16 8.38 -17.19 9.12 -17.81 9.12 -0.91 6.00 -0.88 5.56 -0.75 5.25 -0.44 5.12 0.00 5.31 0.53 5.78 0.84 15.00 0.88 15.53 0.69 15.84 0.22 15.88 0.00 15.75 -0.44 15.53 -0.69 15.22 -0.84 11.88 -0.91 11.88 -21.00 11.69 -21.53Z"/><path transform="translate(143.60 555.20) scale(1.0200 1.0200)" d="M4.72 -20.84 4.38 -20.62 3.19 -19.38 2.16 -17.22 2.12 -16.00 2.19 -15.69 2.38 -15.38 3.56 -14.25 4.00 -14.12 4.31 -14.19 4.62 -14.38 5.62 -15.38 5.84 -15.78 5.84 -16.22 5.62 -16.62 4.62 -17.62 4.38 -17.78 4.72 -18.47 5.50 -19.25 8.12 -20.12 11.78 -20.12 13.47 -19.28 14.28 -18.47 15.12 -16.78 15.12 -15.22 14.34 -13.66 11.59 -11.78 5.62 -8.81 3.38 -6.62 3.16 -6.28 2.16 -3.28 2.12 0.00 2.19 0.31 2.47 0.69 2.78 0.84 3.22 0.84 3.53 0.69 3.84 0.22 3.88 -1.62 4.38 -2.12 5.78 -2.12 10.78 0.84 15.00 0.88 15.31 0.81 15.62 0.62 16.81 -0.62 17.78 -2.56 17.88 -3.00 17.84 -5.22 17.69 -5.53 17.31 -5.81 17.00 -5.88 16.69 -5.81 16.47 -5.69 16.19 -5.31 16.12 -5.00 16.12 -3.38 15.47 -2.72 13.78 -1.88 11.12 -1.88 6.34 -3.81 4.22 -3.91 4.75 -5.50 6.53 -7.28 8.59 -8.31 13.53 -10.28 16.44 -12.22 16.81 -12.62 17.84 -14.78 17.88 -17.00 17.78 -17.44 16.81 -19.38 15.62 -20.62 15.28 -20.84 12.28 -21.84 7.72 -21.84Z"/></g>
<path d="M200.8,533.8L184.3,540.7L200.8,547.5M184.70000000000002,550.0H200.8M184.70000000000002,555.2H200.8" fill="none" stroke="#0000ff" stroke-width="1.8" stroke-linecap="round" stroke-linejoin="round"/>
<g fill="#0000ff" fill-rule="evenodd"><path transform="translate(205.60 555.20) scale(1.0200 1.0200)" d="M1.47 -21.69 1.25 -21.44 1.12 -21.00 1.25 -20.56 1.56 -20.25 2.00 -20.12 4.12 -20.09 4.12 -0.91 2.00 -0.88 1.56 -0.75 1.31 -0.53 1.16 -0.22 1.16 0.22 1.31 0.53 1.56 0.75 2.00 0.88 9.00 0.88 9.31 0.81 9.69 0.53 9.84 0.22 9.84 -0.22 9.69 -0.53 9.44 -0.75 9.00 -0.88 6.88 -0.91 6.88 -10.09 10.78 -10.12 12.38 -9.28 13.22 -7.59 15.09 -0.94 15.38 -0.38 16.38 0.62 16.78 0.84 19.00 0.88 19.53 0.69 19.81 0.38 20.78 -1.56 20.88 -2.00 20.81 -3.31 20.69 -3.53 20.31 -3.81 20.00 -3.88 19.56 -3.75 19.31 -3.53 19.16 -3.22 19.12 -2.38 18.62 -1.88 18.38 -1.88 17.72 -2.53 14.84 -9.28 14.62 -9.62 14.12 -10.12 17.28 -11.16 17.62 -11.38 18.81 -12.62 19.78 -14.56 19.88 -15.00 19.84 -17.22 18.81 -19.38 18.62 -19.62 17.62 -20.62 17.28 -20.84 14.28 -21.84 2.00 -21.88ZM6.88 -20.09 13.78 -20.12 15.47 -19.28 16.28 -18.47 17.12 -16.78 17.12 -15.22 16.28 -13.53 15.47 -12.72 13.78 -11.88 6.91 -11.88Z"/></g>
<g fill="#0000ff" fill-rule="evenodd"><path transform="translate(227.90 564.80) scale(0.6300 0.6300)" d="M1.16 -22.16 0.78 -21.75 0.62 -21.41 0.56 -21.00 0.66 -20.50 0.97 -20.00 1.25 -19.78 1.72 -19.59 3.56 -19.53 3.56 -1.47 1.72 -1.41 1.25 -1.22 1.00 -1.03 0.66 -0.50 0.56 0.00 0.62 0.41 0.84 0.84 1.25 1.22 1.59 1.38 2.00 1.44 17.00 1.44 17.41 1.38 17.84 1.16 18.22 0.75 18.38 0.41 18.44 0.00 18.44 -6.00 18.38 -6.41 18.16 -6.84 17.84 -7.16 17.41 -7.38 17.00 -7.44 16.50 -7.34 16.00 -7.03 15.66 -6.50 14.75 -1.44 7.44 -1.47 7.44 -19.53 9.28 -19.59 9.75 -19.78 10.00 -19.97 10.34 -20.50 10.44 -21.00 10.38 -21.41 10.16 -21.84 9.75 -22.22 9.41 -22.38 9.00 -22.44 2.00 -22.44 1.59 -22.38Z"/></g>
<g fill="#0000ff" fill-rule="evenodd"><path transform="translate(255.20 555.20) scale(1.0200 1.0200)" d="M20.00 -18.88 19.41 -18.69 3.62 -9.81 3.25 -9.44 3.12 -9.00 3.25 -8.56 3.62 -8.19 19.41 0.69 20.00 0.88 20.53 0.69 20.84 0.22 20.81 -0.31 20.38 -0.81 5.81 -9.00 20.38 -17.19 20.81 -17.69 20.84 -18.22 20.53 -18.69Z"/></g>
<g fill="#0000ff" fill-rule="evenodd"><path transform="translate(296.20 555.20) scale(1.0200 1.0200)" d="M11.22 -21.84 10.78 -21.84 10.38 -21.62 7.47 -18.72 5.62 -17.81 5.31 -17.53 5.16 -17.22 5.16 -16.78 5.31 -16.47 5.69 -16.19 6.22 -16.16 8.38 -17.19 9.12 -17.81 9.12 -0.91 6.00 -0.88 5.56 -0.75 5.25 -0.44 5.12 0.00 5.31 0.53 5.78 0.84 15.00 0.88 15.53 0.69 15.84 0.22 15.88 0.00 15.75 -0.44 15.53 -0.69 15.22 -0.84 11.88 -0.91 11.88 -21.00 11.69 -21.53Z"/><path transform="translate(316.60 555.20) scale(1.0200 1.0200)" d="M13.22 -21.84 9.72 -21.84 6.72 -20.84 6.38 -20.62 4.19 -18.38 3.22 -16.44 2.16 -12.28 2.12 -6.00 2.16 -5.72 3.16 -2.72 3.38 -2.38 5.56 -0.25 8.72 0.84 11.28 0.84 14.28 -0.16 14.62 -0.38 16.75 -2.56 17.84 -5.72 17.84 -7.28 16.84 -10.28 16.62 -10.62 14.62 -12.62 14.28 -12.84 11.28 -13.84 9.72 -13.84 6.72 -12.84 6.38 -12.62 4.88 -11.19 4.88 -11.94 5.78 -15.56 6.72 -17.47 8.53 -19.28 10.22 -20.12 12.78 -20.12 14.38 -19.28 14.62 -18.78 14.38 -18.62 13.38 -17.62 13.19 -17.31 13.12 -17.00 13.19 -16.69 13.38 -16.38 14.56 -15.25 15.00 -15.12 15.44 -15.25 16.62 -16.38 16.81 -16.69 16.88 -17.00 16.84 -18.22 15.81 -20.38 15.38 -20.81ZM10.78 -12.12 12.47 -11.28 14.25 -9.50 15.12 -6.88 15.12 -6.12 14.25 -3.50 12.47 -1.72 10.78 -0.88 9.22 -0.88 7.53 -1.72 5.75 -3.50 4.88 -6.12 4.88 -6.88 5.75 -9.50 7.50 -11.25 10.12 -12.12Z"/></g>
<g fill="#00ffff" fill-rule="evenodd"><path transform="translate(123.20 599.10) scale(1.0200 1.0200)" d="M11.22 -21.84 10.78 -21.84 10.38 -21.62 7.47 -18.72 5.62 -17.81 5.31 -17.53 5.16 -17.22 5.16 -16.78 5.31 -16.47 5.69 -16.19 6.22 -16.16 8.38 -17.19 9.12 -17.81 9.12 -0.91 6.00 -0.88 5.56 -0.75 5.25 -0.44 5.12 0.00 5.31 0.53 5.78 0.84 15.00 0.88 15.53 0.69 15.84 0.22 15.88 0.00 15.75 -0.44 15.53 -0.69 15.22 -0.84 11.88 -0.91 11.88 -21.00 11.69 -21.53Z"/><path transform="translate(143.60 599.10) scale(1.0200 1.0200)" d="M13.22 -21.84 9.72 -21.84 6.72 -20.84 6.38 -20.62 4.19 -18.38 3.22 -16.44 2.16 -12.28 2.12 -6.00 2.16 -5.72 3.16 -2.72 3.38 -2.38 5.56 -0.25 8.72 0.84 11.28 0.84 14.28 -0.16 14.62 -0.38 16.75 -2.56 17.84 -5.72 17.84 -7.28 16.84 -10.28 16.62 -10.62 14.62 -12.62 14.28 -12.84 11.28 -13.84 9.72 -13.84 6.72 -12.84 6.38 -12.62 4.88 -11.19 4.88 -11.94 5.78 -15.56 6.72 -17.47 8.53 -19.28 10.22 -20.12 12.78 -20.12 14.38 -19.28 14.62 -18.78 14.38 -18.62 13.38 -17.62 13.19 -17.31 13.12 -17.00 13.19 -16.69 13.38 -16.38 14.56 -15.25 15.00 -15.12 15.44 -15.25 16.62 -16.38 16.81 -16.69 16.88 -17.00 16.84 -18.22 15.81 -20.38 15.38 -20.81ZM10.78 -12.12 12.47 -11.28 14.25 -9.50 15.12 -6.88 15.12 -6.12 14.25 -3.50 12.47 -1.72 10.78 -0.88 9.22 -0.88 7.53 -1.72 5.75 -3.50 4.88 -6.12 4.88 -6.88 5.75 -9.50 7.50 -11.25 10.12 -12.12Z"/></g>
<path d="M200.8,577.7L184.3,584.6L200.8,591.4M184.70000000000002,593.9H200.8M184.70000000000002,599.1H200.8" fill="none" stroke="#00ffff" stroke-width="1.8" stroke-linecap="round" stroke-linejoin="round"/>
<g fill="#00ffff" fill-rule="evenodd"><path transform="translate(205.60 599.10) scale(1.0200 1.0200)" d="M1.47 -21.69 1.25 -21.44 1.12 -21.00 1.25 -20.56 1.56 -20.25 2.00 -20.12 4.12 -20.09 4.12 -0.91 2.00 -0.88 1.56 -0.75 1.31 -0.53 1.16 -0.22 1.16 0.22 1.31 0.53 1.56 0.75 2.00 0.88 9.00 0.88 9.31 0.81 9.69 0.53 9.84 0.22 9.84 -0.22 9.69 -0.53 9.44 -0.75 9.00 -0.88 6.88 -0.91 6.88 -10.09 10.78 -10.12 12.38 -9.28 13.22 -7.59 15.09 -0.94 15.38 -0.38 16.38 0.62 16.78 0.84 19.00 0.88 19.53 0.69 19.81 0.38 20.78 -1.56 20.88 -2.00 20.81 -3.31 20.69 -3.53 20.31 -3.81 20.00 -3.88 19.56 -3.75 19.31 -3.53 19.16 -3.22 19.12 -2.38 18.62 -1.88 18.38 -1.88 17.72 -2.53 14.84 -9.28 14.62 -9.62 14.12 -10.12 17.28 -11.16 17.62 -11.38 18.81 -12.62 19.78 -14.56 19.88 -15.00 19.84 -17.22 18.81 -19.38 18.62 -19.62 17.62 -20.62 17.28 -20.84 14.28 -21.84 2.00 -21.88ZM6.88 -20.09 13.78 -20.12 15.47 -19.28 16.28 -18.47 17.12 -16.78 17.12 -15.22 16.28 -13.53 15.47 -12.72 13.78 -11.88 6.91 -11.88Z"/></g>
<g fill="#00ffff" fill-rule="evenodd"><path transform="translate(227.90 608.70) scale(0.6300 0.6300)" d="M1.16 -22.16 0.78 -21.75 0.62 -21.41 0.56 -21.00 0.66 -20.50 0.97 -20.00 1.25 -19.78 1.72 -19.59 3.56 -19.53 3.56 -1.47 1.72 -1.41 1.25 -1.22 1.00 -1.03 0.66 -0.50 0.56 0.00 0.62 0.41 0.84 0.84 1.25 1.22 1.59 1.38 2.00 1.44 17.00 1.44 17.41 1.38 17.84 1.16 18.22 0.75 18.38 0.41 18.44 0.00 18.44 -6.00 18.38 -6.41 18.16 -6.84 17.84 -7.16 17.41 -7.38 17.00 -7.44 16.50 -7.34 16.00 -7.03 15.66 -6.50 14.75 -1.44 7.44 -1.47 7.44 -19.53 9.28 -19.59 9.75 -19.78 10.00 -19.97 10.34 -20.50 10.44 -21.00 10.38 -21.41 10.16 -21.84 9.75 -22.22 9.41 -22.38 9.00 -22.44 2.00 -22.44 1.59 -22.38Z"/></g>
<g fill="#00ffff" fill-rule="evenodd"><path transform="translate(255.20 599.10) scale(1.0200 1.0200)" d="M20.00 -18.88 19.41 -18.69 3.62 -9.81 3.25 -9.44 3.12 -9.00 3.25 -8.56 3.62 -8.19 19.41 0.69 20.00 0.88 20.53 0.69 20.84 0.22 20.81 -0.31 20.38 -0.81 5.81 -9.00 20.38 -17.19 20.81 -17.69 20.84 -18.22 20.53 -18.69Z"/></g>
<g fill="#00ffff" fill-rule="evenodd"><path transform="translate(296.20 599.10) scale(1.0200 1.0200)" d="M4.72 -20.84 4.38 -20.62 3.19 -19.38 2.16 -17.22 2.12 -16.00 2.19 -15.69 2.38 -15.38 3.56 -14.25 4.00 -14.12 4.31 -14.19 4.62 -14.38 5.62 -15.38 5.84 -15.78 5.84 -16.22 5.62 -16.62 4.62 -17.62 4.38 -17.78 4.72 -18.47 5.50 -19.25 8.12 -20.12 11.78 -20.12 13.47 -19.28 14.28 -18.47 15.12 -16.78 15.12 -15.22 14.34 -13.66 11.59 -11.78 5.62 -8.81 3.38 -6.62 3.16 -6.28 2.16 -3.28 2.12 0.00 2.19 0.31 2.47 0.69 2.78 0.84 3.22 0.84 3.53 0.69 3.84 0.22 3.88 -1.62 4.38 -2.12 5.78 -2.12 10.78 0.84 15.00 0.88 15.31 0.81 15.62 0.62 16.81 -0.62 17.78 -2.56 17.88 -3.00 17.84 -5.22 17.69 -5.53 17.31 -5.81 17.00 -5.88 16.69 -5.81 16.47 -5.69 16.19 -5.31 16.12 -5.00 16.12 -3.38 15.47 -2.72 13.78 -1.88 11.12 -1.88 6.34 -3.81 4.22 -3.91 4.75 -5.50 6.53 -7.28 8.59 -8.31 13.53 -10.28 16.44 -12.22 16.81 -12.62 17.84 -14.78 17.88 -17.00 17.78 -17.44 16.81 -19.38 15.62 -20.62 15.28 -20.84 12.28 -21.84 7.72 -21.84Z"/><path transform="translate(316.60 599.10) scale(1.0200 1.0200)" d="M11.22 -21.84 10.78 -21.84 10.38 -21.62 7.47 -18.72 5.62 -17.81 5.31 -17.53 5.16 -17.22 5.16 -16.78 5.31 -16.47 5.69 -16.19 6.22 -16.16 8.38 -17.19 9.12 -17.81 9.12 -0.91 6.00 -0.88 5.56 -0.75 5.25 -0.44 5.12 0.00 5.31 0.53 5.78 0.84 15.00 0.88 15.53 0.69 15.84 0.22 15.88 0.00 15.75 -0.44 15.53 -0.69 15.22 -0.84 11.88 -0.91 11.88 -21.00 11.69 -21.53Z"/></g>
<g fill="#ff00ff" fill-rule="evenodd"><path transform="translate(123.20 642.90) scale(1.0200 1.0200)" d="M4.72 -20.84 4.38 -20.62 3.19 -19.38 2.16 -17.22 2.12 -16.00 2.19 -15.69 2.38 -15.38 3.56 -14.25 4.00 -14.12 4.31 -14.19 4.62 -14.38 5.62 -15.38 5.84 -15.78 5.84 -16.22 5.62 -16.62 4.62 -17.62 4.38 -17.78 4.72 -18.47 5.50 -19.25 8.12 -20.12 11.78 -20.12 13.47 -19.28 14.28 -18.47 15.12 -16.78 15.12 -15.22 14.34 -13.66 11.59 -11.78 5.62 -8.81 3.38 -6.62 3.16 -6.28 2.16 -3.28 2.12 0.00 2.19 0.31 2.47 0.69 2.78 0.84 3.22 0.84 3.53 0.69 3.84 0.22 3.88 -1.62 4.38 -2.12 5.78 -2.12 10.78 0.84 15.00 0.88 15.31 0.81 15.62 0.62 16.81 -0.62 17.78 -2.56 17.88 -3.00 17.84 -5.22 17.69 -5.53 17.31 -5.81 17.00 -5.88 16.69 -5.81 16.47 -5.69 16.19 -5.31 16.12 -5.00 16.12 -3.38 15.47 -2.72 13.78 -1.88 11.12 -1.88 6.34 -3.81 4.22 -3.91 4.75 -5.50 6.53 -7.28 8.59 -8.31 13.53 -10.28 16.44 -12.22 16.81 -12.62 17.84 -14.78 17.88 -17.00 17.78 -17.44 16.81 -19.38 15.62 -20.62 15.28 -20.84 12.28 -21.84 7.72 -21.84Z"/><path transform="translate(143.60 642.90) scale(1.0200 1.0200)" d="M11.22 -21.84 10.78 -21.84 10.38 -21.62 7.47 -18.72 5.62 -17.81 5.31 -17.53 5.16 -17.22 5.16 -16.78 5.31 -16.47 5.69 -16.19 6.22 -16.16 8.38 -17.19 9.12 -17.81 9.12 -0.91 6.00 -0.88 5.56 -0.75 5.25 -0.44 5.12 0.00 5.31 0.53 5.78 0.84 15.00 0.88 15.53 0.69 15.84 0.22 15.88 0.00 15.75 -0.44 15.53 -0.69 15.22 -0.84 11.88 -0.91 11.88 -21.00 11.69 -21.53Z"/></g>
<path d="M200.8,621.5L184.3,628.4L200.8,635.2M184.70000000000002,637.7H200.8M184.70000000000002,642.9H200.8" fill="none" stroke="#ff00ff" stroke-width="1.8" stroke-linecap="round" stroke-linejoin="round"/>
<g fill="#ff00ff" fill-rule="evenodd"><path transform="translate(205.60 642.90) scale(1.0200 1.0200)" d="M1.47 -21.69 1.25 -21.44 1.12 -21.00 1.25 -20.56 1.56 -20.25 2.00 -20.12 4.12 -20.09 4.12 -0.91 2.00 -0.88 1.56 -0.75 1.31 -0.53 1.16 -0.22 1.16 0.22 1.31 0.53 1.56 0.75 2.00 0.88 9.00 0.88 9.31 0.81 9.69 0.53 9.84 0.22 9.84 -0.22 9.69 -0.53 9.44 -0.75 9.00 -0.88 6.88 -0.91 6.88 -10.09 10.78 -10.12 12.38 -9.28 13.22 -7.59 15.09 -0.94 15.38 -0.38 16.38 0.62 16.78 0.84 19.00 0.88 19.53 0.69 19.81 0.38 20.78 -1.56 20.88 -2.00 20.81 -3.31 20.69 -3.53 20.31 -3.81 20.00 -3.88 19.56 -3.75 19.31 -3.53 19.16 -3.22 19.12 -2.38 18.62 -1.88 18.38 -1.88 17.72 -2.53 14.84 -9.28 14.62 -9.62 14.12 -10.12 17.28 -11.16 17.62 -11.38 18.81 -12.62 19.78 -14.56 19.88 -15.00 19.84 -17.22 18.81 -19.38 18.62 -19.62 17.62 -20.62 17.28 -20.84 14.28 -21.84 2.00 -21.88ZM6.88 -20.09 13.78 -20.12 15.47 -19.28 16.28 -18.47 17.12 -16.78 17.12 -15.22 16.28 -13.53 15.47 -12.72 13.78 -11.88 6.91 -11.88Z"/></g>
<g fill="#ff00ff" fill-rule="evenodd"><path transform="translate(227.90 652.50) scale(0.6300 0.6300)" d="M1.16 -22.16 0.78 -21.75 0.62 -21.41 0.56 -21.00 0.66 -20.50 0.97 -20.00 1.25 -19.78 1.72 -19.59 3.56 -19.53 3.56 -1.47 1.72 -1.41 1.25 -1.22 1.00 -1.03 0.66 -0.50 0.56 0.00 0.62 0.41 0.84 0.84 1.25 1.22 1.59 1.38 2.00 1.44 17.00 1.44 17.41 1.38 17.84 1.16 18.22 0.75 18.38 0.41 18.44 0.00 18.44 -6.00 18.38 -6.41 18.16 -6.84 17.84 -7.16 17.41 -7.38 17.00 -7.44 16.50 -7.34 16.00 -7.03 15.66 -6.50 14.75 -1.44 7.44 -1.47 7.44 -19.53 9.28 -19.59 9.75 -19.78 10.00 -19.97 10.34 -20.50 10.44 -21.00 10.38 -21.41 10.16 -21.84 9.75 -22.22 9.41 -22.38 9.00 -22.44 2.00 -22.44 1.59 -22.38Z"/></g>
<g fill="#ff00ff" fill-rule="evenodd"><path transform="translate(255.20 642.90) scale(1.0200 1.0200)" d="M20.00 -18.88 19.41 -18.69 3.62 -9.81 3.25 -9.44 3.12 -9.00 3.25 -8.56 3.62 -8.19 19.41 0.69 20.00 0.88 20.53 0.69 20.84 0.22 20.81 -0.31 20.38 -0.81 5.81 -9.00 20.38 -17.19 20.81 -17.69 20.84 -18.22 20.53 -18.69Z"/></g>
<g fill="#ff00ff" fill-rule="evenodd"><path transform="translate(296.20 642.90) scale(1.0200 1.0200)" d="M7.72 -21.84 4.72 -20.84 4.38 -20.62 3.38 -19.62 2.22 -17.44 2.12 -17.00 2.19 -15.69 2.38 -15.38 3.56 -14.25 4.00 -14.12 4.31 -14.19 4.62 -14.38 5.62 -15.38 5.81 -15.69 5.88 -16.00 5.81 -16.31 5.62 -16.62 4.62 -17.62 4.38 -17.78 4.72 -18.47 5.50 -19.25 8.12 -20.12 11.78 -20.12 13.28 -19.38 14.12 -17.78 14.12 -15.22 13.38 -13.72 11.78 -12.88 8.78 -12.84 8.31 -12.53 8.12 -12.00 8.31 -11.47 8.78 -11.16 11.78 -11.12 13.47 -10.28 14.25 -9.50 15.12 -6.88 15.12 -4.22 14.28 -2.53 13.47 -1.72 11.78 -0.88 8.12 -0.88 5.50 -1.75 4.72 -2.53 4.38 -3.22 4.62 -3.38 5.62 -4.38 5.84 -4.78 5.84 -5.22 5.62 -5.62 4.62 -6.62 4.22 -6.84 4.00 -6.88 3.56 -6.75 2.38 -5.62 2.19 -5.31 2.12 -5.00 2.16 -3.78 3.19 -1.62 4.38 -0.38 4.72 -0.16 7.72 0.84 12.28 0.84 15.28 -0.16 15.62 -0.38 16.81 -1.62 17.84 -3.78 17.88 -7.00 17.78 -7.44 16.62 -9.62 14.34 -11.84 15.28 -12.16 15.69 -12.47 16.78 -14.56 16.88 -15.00 16.84 -18.22 15.81 -20.38 15.28 -20.84 12.28 -21.84Z"/><path transform="translate(316.60 642.90) scale(1.0200 1.0200)" d="M9.00 -21.88 8.72 -21.84 5.72 -20.84 5.47 -20.69 5.22 -20.44 3.28 -17.53 3.12 -17.12 2.16 -12.28 2.12 -9.00 3.19 -3.69 5.22 -0.56 5.72 -0.16 8.72 0.84 11.00 0.88 11.28 0.84 14.28 -0.16 14.53 -0.31 14.78 -0.56 16.72 -3.47 16.88 -3.88 17.84 -8.72 17.88 -12.00 16.81 -17.31 14.78 -20.44 14.28 -20.84 11.28 -21.84ZM9.22 -20.12 10.78 -20.12 12.47 -19.28 13.28 -18.47 14.19 -16.66 15.12 -12.00 15.12 -9.00 14.19 -4.34 13.28 -2.53 12.47 -1.72 10.78 -0.88 9.22 -0.88 7.53 -1.72 6.72 -2.53 5.81 -4.34 4.88 -9.00 4.88 -12.00 5.81 -16.66 6.72 -18.47 7.53 -19.28Z"/></g>
<g fill="#ff0000" fill-rule="evenodd"><path transform="translate(205.60 686.80) scale(1.0200 1.0200)" d="M1.47 -21.69 1.25 -21.44 1.12 -21.00 1.25 -20.56 1.56 -20.25 2.00 -20.12 4.12 -20.09 4.12 -0.91 2.00 -0.88 1.56 -0.75 1.31 -0.53 1.16 -0.22 1.16 0.22 1.31 0.53 1.56 0.75 2.00 0.88 9.00 0.88 9.31 0.81 9.69 0.53 9.84 0.22 9.84 -0.22 9.69 -0.53 9.44 -0.75 9.00 -0.88 6.88 -0.91 6.88 -10.09 10.78 -10.12 12.38 -9.28 13.22 -7.59 15.09 -0.94 15.38 -0.38 16.38 0.62 16.78 0.84 19.00 0.88 19.53 0.69 19.81 0.38 20.78 -1.56 20.88 -2.00 20.81 -3.31 20.69 -3.53 20.31 -3.81 20.00 -3.88 19.56 -3.75 19.31 -3.53 19.16 -3.22 19.12 -2.38 18.62 -1.88 18.38 -1.88 17.72 -2.53 14.84 -9.28 14.62 -9.62 14.12 -10.12 17.28 -11.16 17.62 -11.38 18.81 -12.62 19.78 -14.56 19.88 -15.00 19.84 -17.22 18.81 -19.38 18.62 -19.62 17.62 -20.62 17.28 -20.84 14.28 -21.84 2.00 -21.88ZM6.88 -20.09 13.78 -20.12 15.47 -19.28 16.28 -18.47 17.12 -16.78 17.12 -15.22 16.28 -13.53 15.47 -12.72 13.78 -11.88 6.91 -11.88Z"/></g>
<g fill="#ff0000" fill-rule="evenodd"><path transform="translate(227.90 696.40) scale(0.6300 0.6300)" d="M1.16 -22.16 0.78 -21.75 0.62 -21.41 0.56 -21.00 0.66 -20.50 0.97 -20.00 1.25 -19.78 1.72 -19.59 3.56 -19.53 3.56 -1.47 1.72 -1.41 1.25 -1.22 1.00 -1.03 0.66 -0.50 0.56 0.00 0.62 0.41 0.84 0.84 1.25 1.22 1.59 1.38 2.00 1.44 17.00 1.44 17.41 1.38 17.84 1.16 18.22 0.75 18.38 0.41 18.44 0.00 18.44 -6.00 18.38 -6.41 18.16 -6.84 17.84 -7.16 17.41 -7.38 17.00 -7.44 16.50 -7.34 16.00 -7.03 15.66 -6.50 14.75 -1.44 7.44 -1.47 7.44 -19.53 9.28 -19.59 9.75 -19.78 10.00 -19.97 10.34 -20.50 10.44 -21.00 10.38 -21.41 10.16 -21.84 9.75 -22.22 9.41 -22.38 9.00 -22.44 2.00 -22.44 1.59 -22.38Z"/></g>
<path d="M259.3,665.4L276.4,672.3L259.3,679.1M259.3,681.6H276.0M259.3,686.8H276.0" fill="none" stroke="#ff0000" stroke-width="1.8" stroke-linecap="round" stroke-linejoin="round"/>
<g fill="#ff0000" fill-rule="evenodd"><path transform="translate(295.80 686.80) scale(1.0200 1.0200)" d="M7.72 -21.84 4.72 -20.84 4.38 -20.62 3.38 -19.62 2.22 -17.44 2.12 -17.00 2.19 -15.69 2.38 -15.38 3.56 -14.25 4.00 -14.12 4.31 -14.19 4.62 -14.38 5.62 -15.38 5.81 -15.69 5.88 -16.00 5.81 -16.31 5.62 -16.62 4.62 -17.62 4.38 -17.78 4.72 -18.47 5.50 -19.25 8.12 -20.12 11.78 -20.12 13.28 -19.38 14.12 -17.78 14.12 -15.22 13.38 -13.72 11.78 -12.88 8.78 -12.84 8.31 -12.53 8.12 -12.00 8.31 -11.47 8.78 -11.16 11.78 -11.12 13.47 -10.28 14.25 -9.50 15.12 -6.88 15.12 -4.22 14.28 -2.53 13.47 -1.72 11.78 -0.88 8.12 -0.88 5.50 -1.75 4.72 -2.53 4.38 -3.22 4.62 -3.38 5.62 -4.38 5.84 -4.78 5.84 -5.22 5.62 -5.62 4.62 -6.62 4.22 -6.84 4.00 -6.88 3.56 -6.75 2.38 -5.62 2.19 -5.31 2.12 -5.00 2.16 -3.78 3.19 -1.62 4.38 -0.38 4.72 -0.16 7.72 0.84 12.28 0.84 15.28 -0.16 15.62 -0.38 16.81 -1.62 17.84 -3.78 17.88 -7.00 17.78 -7.44 16.62 -9.62 14.34 -11.84 15.28 -12.16 15.69 -12.47 16.78 -14.56 16.88 -15.00 16.84 -18.22 15.81 -20.38 15.28 -20.84 12.28 -21.84Z"/><path transform="translate(316.20 686.80) scale(1.0200 1.0200)" d="M9.00 -21.88 8.72 -21.84 5.72 -20.84 5.47 -20.69 5.22 -20.44 3.28 -17.53 3.12 -17.12 2.16 -12.28 2.12 -9.00 3.19 -3.69 5.22 -0.56 5.72 -0.16 8.72 0.84 11.00 0.88 11.28 0.84 14.28 -0.16 14.53 -0.31 14.78 -0.56 16.72 -3.47 16.88 -3.88 17.84 -8.72 17.88 -12.00 16.81 -17.31 14.78 -20.44 14.28 -20.84 11.28 -21.84ZM9.22 -20.12 10.78 -20.12 12.47 -19.28 13.28 -18.47 14.19 -16.66 15.12 -12.00 15.12 -9.00 14.19 -4.34 13.28 -2.53 12.47 -1.72 10.78 -0.88 9.22 -0.88 7.53 -1.72 6.72 -2.53 5.81 -4.34 4.88 -9.00 4.88 -12.00 5.81 -16.66 6.72 -18.47 7.53 -19.28Z"/></g>
</svg>
</body></html>
